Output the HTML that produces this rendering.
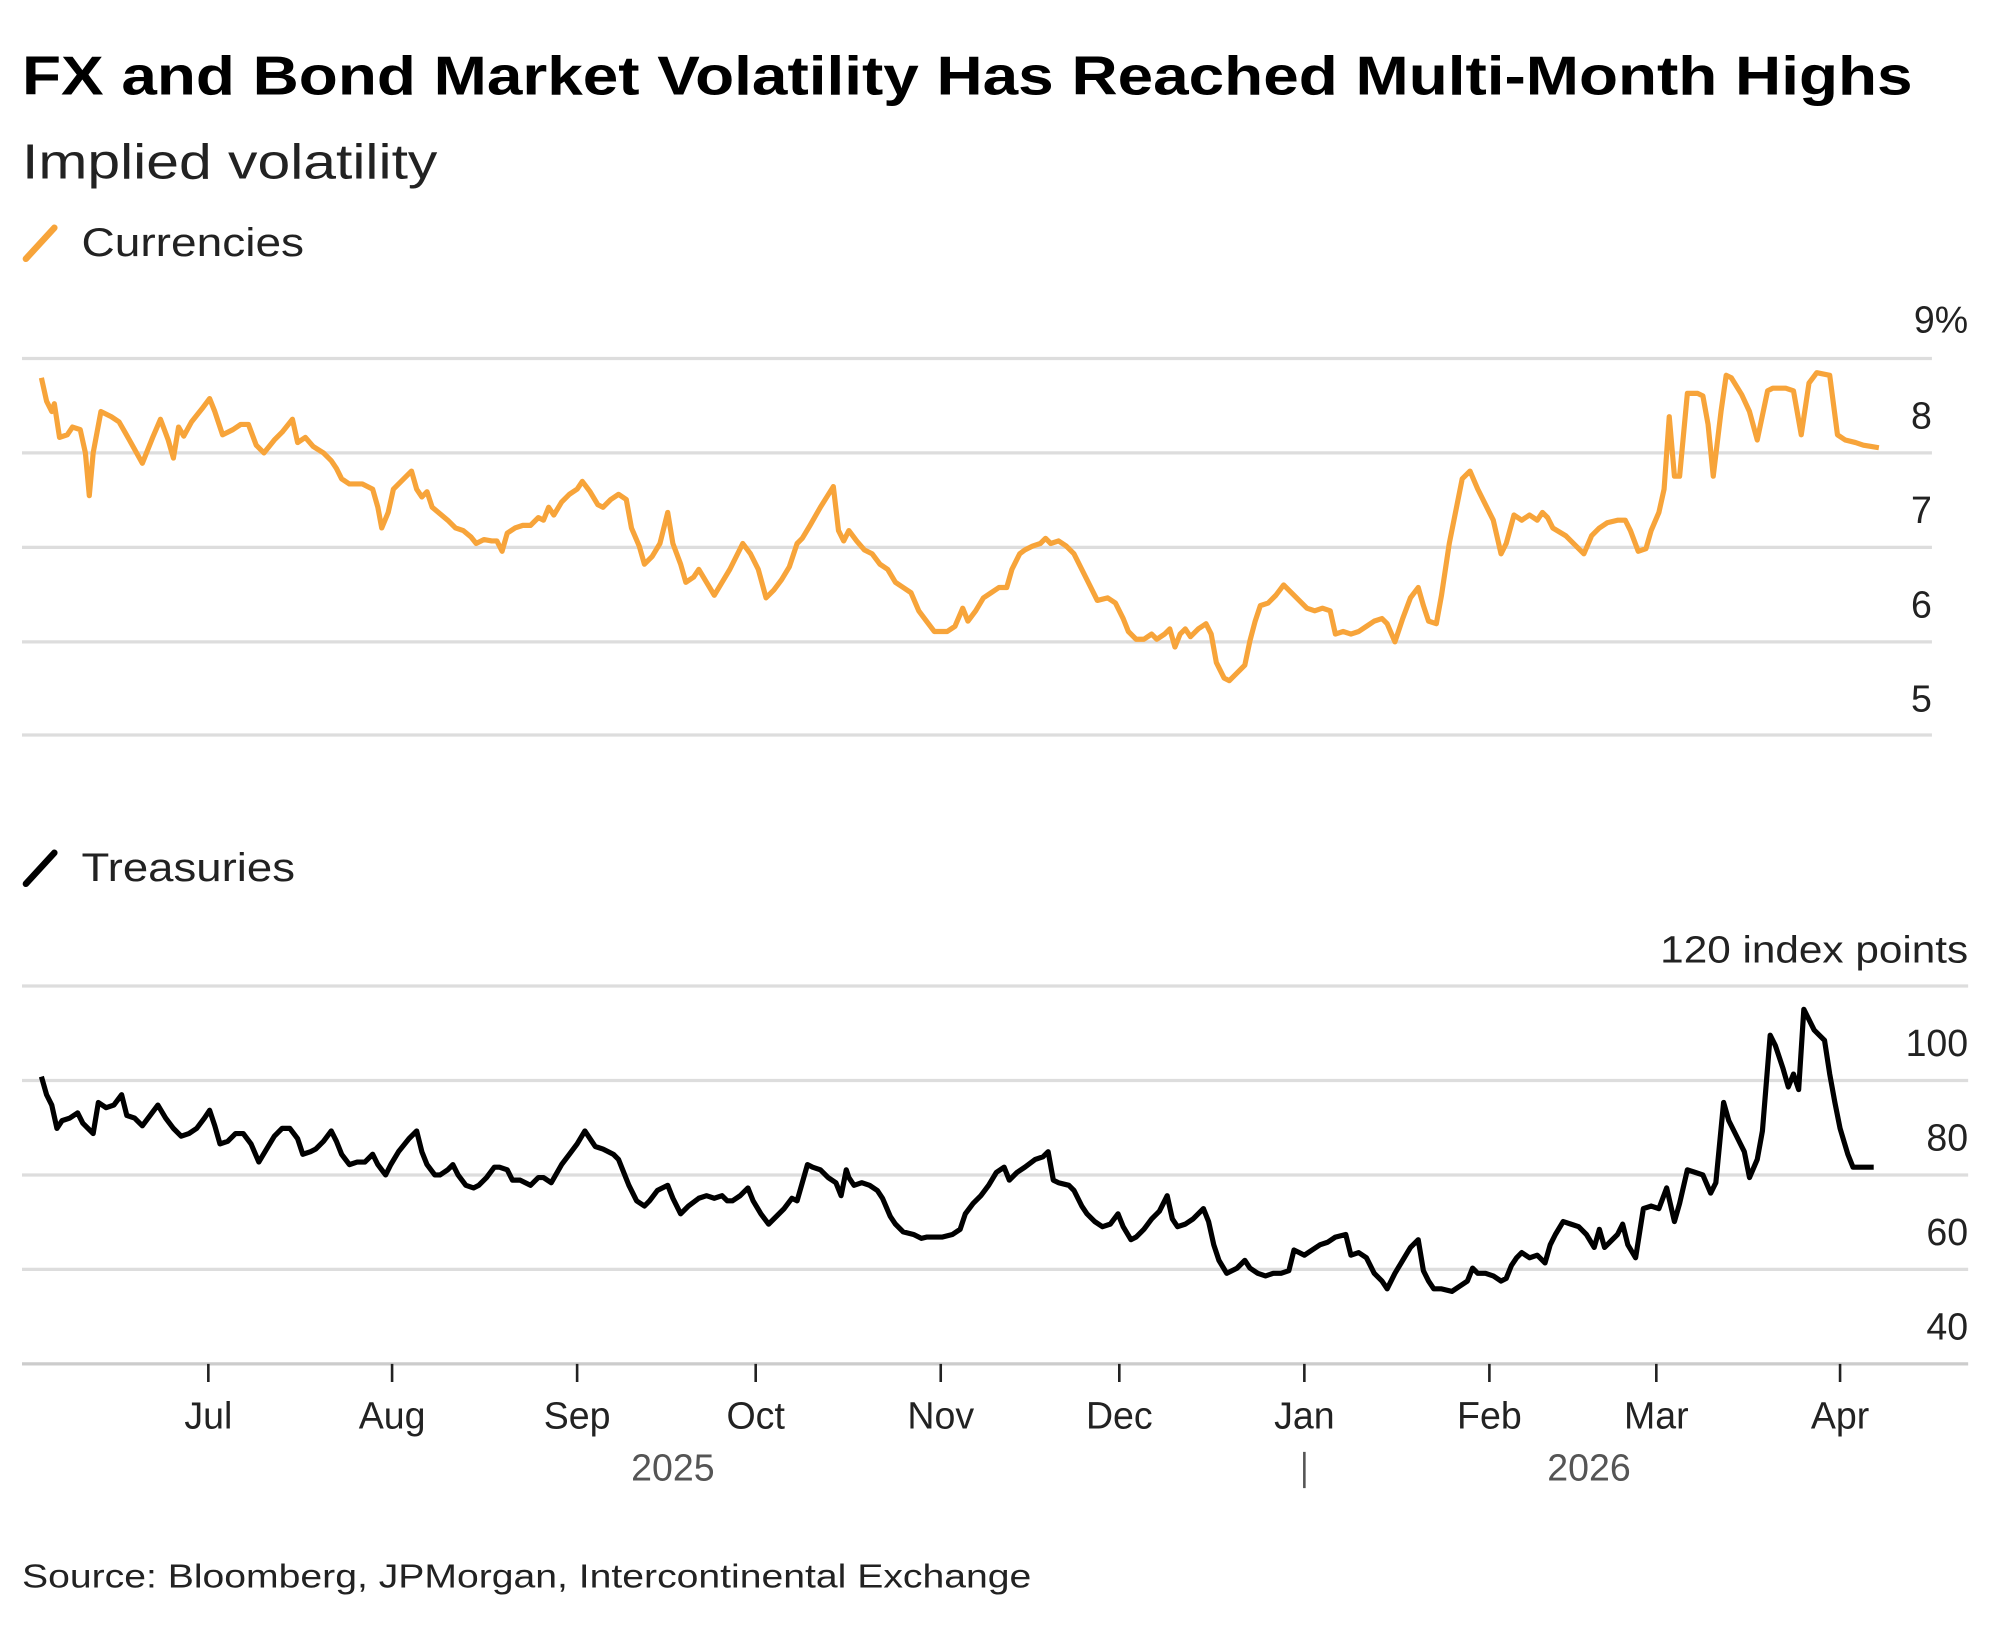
<!DOCTYPE html>
<html><head><meta charset="utf-8"><style>html,body{margin:0;padding:0;background:#fff}svg{display:block}</style></head>
<body>
<svg width="2000" height="1635" viewBox="0 0 1545.6 1263.5" xmlns="http://www.w3.org/2000/svg" font-family="'Liberation Sans', sans-serif">
<rect width="1545.6" height="1263.5" fill="#fff"/>
<text x="17" y="73" font-size="42" font-weight="bold" fill="#000" textLength="1461" lengthAdjust="spacingAndGlyphs">FX and Bond Market Volatility Has Reached Multi-Month Highs</text>
<text x="17" y="138" font-size="38" fill="#222" textLength="321" lengthAdjust="spacingAndGlyphs">Implied volatility</text>
<line x1="20" y1="200" x2="42" y2="176" stroke="#f7a43a" stroke-width="5" stroke-linecap="round"/>
<text x="63" y="198" font-size="31" fill="#222" textLength="172" lengthAdjust="spacingAndGlyphs">Currencies</text>
<g stroke="#ddd" stroke-width="2.5">
<line x1="17" y1="277" x2="1493" y2="277"/><line x1="17" y1="350" x2="1493" y2="350"/><line x1="17" y1="423" x2="1493" y2="423"/><line x1="17" y1="496" x2="1493" y2="496"/><line x1="17" y1="568" x2="1493" y2="568"/>
</g>
<g font-size="29" fill="#222" text-anchor="end">
<text x="1521" y="257">9%</text><text x="1493" y="331">8</text><text x="1493" y="404">7</text><text x="1493" y="477">6</text><text x="1493" y="550">5</text>
</g>
<polyline fill="none" stroke="#f7a43a" stroke-width="4" stroke-linejoin="round" points="32,292 36,310 40,318 42,312 46,338 52,336 56,330 62,332 66,350 69,383 72,350 78,318 86,322 92,326 100,340 110,358 118,338 124,324 130,340 134,354 138,330 142,337 148,326 156,316 162,308 166,318 172,336 180,332 186,328 192,328 198,344 204,350 212,340 218,334 226,324 230,342 236,338 242,345 250,350 256,356 260,362 264,370 270,374 280,374 288,378 292,392 295,408 300,396 304,378 312,370 318,364 322,378 326,384 330,380 334,392 340,397 346,402 352,408 358,410 364,415 368,420 374,417 380,418 384,418 388,426 392,412 398,408 404,406 410,406 416,400 420,402 424,392 428,398 434,388 440,382 446,378 450,372 456,380 462,390 466,392 472,386 478,382 484,386 488,408 494,422 498,436 504,430 510,420 516,396 520,420 526,436 530,450 536,446 540,440 546,450 552,460 558,450 564,440 570,428 574,420 580,428 586,440 592,462 598,456 604,448 610,438 616,420 620,416 626,406 634,392 644,376 648,410 652,418 656,410 662,418 668,425 674,428 680,436 686,440 692,450 698,454 704,458 710,472 716,480 722,488 732,488 738,484 744,470 748,480 754,472 760,462 766,458 772,454 778,454 782,440 788,428 792,425 798,422 804,420 808,416 812,420 818,418 824,422 830,428 836,440 842,452 848,464 856,462 862,466 868,478 872,488 878,494 884,494 890,490 894,494 900,490 904,486 908,500 912,490 916,486 920,492 926,486 932,482 936,490 940,512 946,524 950,526 956,520 962,514 966,495 970,480 974,468 980,466 986,460 992,452 998,458 1004,464 1010,470 1016,472 1022,470 1028,472 1032,490 1038,488 1044,490 1050,488 1056,484 1062,480 1068,478 1072,482 1078,496 1084,478 1090,462 1096,454 1100,468 1104,480 1110,482 1114,460 1120,420 1124,400 1130,370 1136,364 1142,378 1148,390 1154,402 1160,428 1164,420 1170,398 1176,402 1182,398 1188,402 1192,396 1196,400 1200,408 1210,414 1218,422 1224,428 1230,414 1236,408 1242,404 1250,402 1256,402 1260,410 1266,426 1272,424 1276,410 1282,396 1286,378 1290,322 1294,368 1298,368 1304,304 1312,304 1316,306 1320,328 1324,368 1330,318 1334,290 1338,292 1346,305 1352,318 1358,340 1366,302 1370,300 1380,300 1386,302 1392,336 1398,296 1404,288 1414,290 1420,336 1426,340 1434,342 1440,344 1446,345 1452,346"/>
<line x1="20" y1="683" x2="42" y2="659" stroke="#000" stroke-width="5" stroke-linecap="round"/>
<text x="63" y="681" font-size="31" fill="#222" textLength="165" lengthAdjust="spacingAndGlyphs">Treasuries</text>
<g stroke="#ddd" stroke-width="2.5">
<line x1="17" y1="762" x2="1521" y2="762"/><line x1="17" y1="835" x2="1521" y2="835"/><line x1="17" y1="908" x2="1521" y2="908"/><line x1="17" y1="981" x2="1521" y2="981"/>
</g>
<line x1="17" y1="1054" x2="1521" y2="1054" stroke="#ccc" stroke-width="2.5"/>
<g font-size="29" fill="#222" text-anchor="end">
<text x="1521" y="744" textLength="238" lengthAdjust="spacingAndGlyphs">120 index points</text><text x="1521" y="816">100</text><text x="1521" y="889">80</text><text x="1521" y="962">60</text><text x="1521" y="1035">40</text>
</g>
<polyline fill="none" stroke="#000" stroke-width="4" stroke-linejoin="round" points="32,832 36,846 40,854 44,872 48,866 54,864 60,860 64,868 68,872 72,876 76,852 82,856 88,854 94,846 98,862 104,864 110,870 116,862 122,854 128,864 134,872 140,878 146,876 152,872 158,864 162,858 166,870 170,884 176,882 182,876 188,876 194,884 200,898 206,888 212,878 218,872 224,872 230,880 234,892 240,890 244,888 250,882 256,874 260,882 264,892 270,900 276,898 282,898 288,892 292,900 298,908 302,900 308,890 316,880 322,874 326,890 330,900 336,908 340,908 346,904 350,900 354,908 360,916 366,918 370,916 376,910 382,902 386,902 392,904 396,912 402,912 410,916 416,910 420,910 426,914 434,900 440,892 446,884 452,874 456,880 460,886 466,888 474,892 478,896 482,906 486,916 492,928 498,932 502,928 508,920 516,916 520,926 526,938 532,932 540,926 546,924 552,926 558,924 562,928 566,928 572,924 578,918 582,928 588,938 594,946 600,940 606,934 612,926 616,928 620,914 624,900 628,902 634,904 640,910 646,914 650,924 654,904 656,910 660,916 666,914 672,916 678,920 682,926 688,940 692,946 698,952 706,954 712,957 716,956 722,956 728,956 736,954 742,950 746,938 752,930 758,924 764,916 770,906 776,902 780,912 786,906 792,902 800,896 806,894 810,890 814,912 818,914 826,916 830,920 836,932 840,938 846,944 852,948 858,946 864,938 868,948 874,958 878,956 884,950 890,942 896,936 902,924 906,942 910,948 916,946 922,942 930,934 934,944 938,962 942,974 948,984 956,980 962,974 966,980 972,984 978,986 984,984 990,984 996,982 1000,966 1004,968 1008,970 1014,966 1020,962 1026,960 1032,956 1040,954 1044,970 1050,968 1056,972 1062,984 1068,990 1072,996 1078,984 1084,974 1090,964 1096,958 1100,982 1104,990 1108,996 1114,996 1122,998 1128,994 1134,990 1138,980 1142,984 1148,984 1154,986 1160,990 1164,988 1168,978 1172,972 1176,968 1182,972 1188,970 1194,976 1198,962 1202,954 1208,944 1214,946 1220,948 1226,954 1232,964 1236,950 1240,964 1244,960 1250,954 1254,946 1258,962 1264,972 1270,934 1276,932 1282,934 1288,918 1294,944 1298,930 1304,904 1310,906 1316,908 1322,922 1326,914 1332,852 1336,866 1342,878 1348,890 1352,910 1358,896 1362,874 1368,800 1372,808 1378,826 1382,840 1386,830 1390,842 1394,780 1398,788 1402,796 1410,804 1414,830 1418,852 1422,872 1428,892 1432,902 1440,902 1448,902"/>
<g stroke="#222" stroke-width="2">
<line x1="161" y1="1054" x2="161" y2="1068"/><line x1="303" y1="1054" x2="303" y2="1068"/><line x1="446" y1="1054" x2="446" y2="1068"/><line x1="584" y1="1054" x2="584" y2="1068"/><line x1="727" y1="1054" x2="727" y2="1068"/><line x1="865" y1="1054" x2="865" y2="1068"/><line x1="1008" y1="1054" x2="1008" y2="1068"/><line x1="1151" y1="1054" x2="1151" y2="1068"/><line x1="1280" y1="1054" x2="1280" y2="1068"/><line x1="1422" y1="1054" x2="1422" y2="1068"/>
<line x1="1008" y1="1122" x2="1008" y2="1150" stroke="#555"/>
</g>
<g font-size="29" fill="#222" text-anchor="middle">
<text x="161" y="1104">Jul</text><text x="303" y="1104">Aug</text><text x="446" y="1104">Sep</text><text x="584" y="1104">Oct</text><text x="727" y="1104">Nov</text><text x="865" y="1104">Dec</text><text x="1008" y="1104">Jan</text><text x="1151" y="1104">Feb</text><text x="1280" y="1104">Mar</text><text x="1422" y="1104">Apr</text>
<text x="520" y="1144" fill="#555">2025</text><text x="1228" y="1144" fill="#555">2026</text>
</g>
<text x="17" y="1227" font-size="26" fill="#222" textLength="780" lengthAdjust="spacingAndGlyphs">Source: Bloomberg, JPMorgan, Intercontinental Exchange</text>
</svg>
</body></html>
